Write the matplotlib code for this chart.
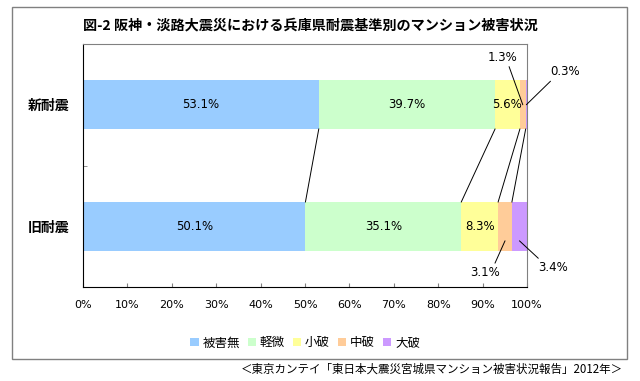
import numpy as np
import matplotlib
matplotlib.use("Agg")
import matplotlib.pyplot as plt
from matplotlib.patches import Rectangle

plt.rcParams['font.family'] = ['Noto Sans CJK JP', 'DejaVu Sans']

# データ
categories = ["旧耐震", "新耐震"]
series_names = ["被害無", "軽微", "小破", "中破", "大破"]
colors = ["#99CCFF", "#CCFFCC", "#FFFF99", "#FFCC99", "#CC99FF"]
old_values = [50.1, 35.1, 8.3, 3.1, 3.4]
new_values = [53.1, 39.7, 5.6, 1.3, 0.3]
title = "図-2 阪神・淡路大震災における兵庫県耐震基準別のマンション被害状況"
source = "＜東京カンテイ「東日本大震災宮城県マンション被害状況報告」2012年＞"
xticks = [0, 10, 20, 30, 40, 50, 60, 70, 80, 90, 100]

data = np.array([old_values, new_values])
y = np.arange(len(categories))
h = 0.4

fig = plt.figure(figsize=(6.4, 3.81), dpi=100)
ax = fig.add_axes([83 / 640, 1 - 287 / 381, 444 / 640, 243 / 381])

# 外枠
fig.patches.append(Rectangle((12 / 640, 1 - 359 / 381), 615 / 640, 352 / 381,
                             transform=fig.transFigure, fill=False,
                             edgecolor="#808080", linewidth=1))

left = np.zeros(len(categories))
for i, name in enumerate(series_names):
    ax.barh(y, data[:, i], left=left, height=h, color=colors[i],
            label=name, linewidth=0)
    left += data[:, i]

# 棒の中のラベル(大きい値のみ)
for j in range(len(categories)):
    start = 0
    for i in range(len(series_names)):
        v = data[j, i]
        if v >= 5:
            ax.text(start + v / 2, y[j], f"{v:.1f}%", ha="center", va="center",
                    fontsize=8.5, family="DejaVu Sans")
        start += v

# 区分線
cum_old = np.cumsum(old_values)
cum_new = np.cumsum(new_values)
for k in range(len(series_names) - 1):
    ax.plot([cum_new[k], cum_old[k]], [1 - h / 2, 0 + h / 2], color="black",
            linewidth=0.7)

# 小さい値のラベル(引き出し線付き)
def leader(j, i, text_xy, xy_y, relpos):
    start = sum(data[j, :i])
    v = data[j, i]
    ax.annotate(f"{v:.1f}%", xy=(start + v / 2, xy_y), xytext=text_xy,
                ha="center", va="center", fontsize=8.5, family="DejaVu Sans",
                annotation_clip=False,
                arrowprops=dict(arrowstyle="-", color="black", lw=0.7,
                                relpos=relpos, shrinkA=0, shrinkB=0))

leader(1, 3, (94.4, 1.39), 1.0, (0.7, 0.0))
leader(1, 4, (108.6, 1.27), 1.0, (0.1, 0.0))
leader(0, 3, (90.5, -0.38), -0.12, (0.8, 1.0))
leader(0, 4, (105.9, -0.34), -0.12, (0.1, 1.0))

ax.set_xlim(0, 100)
ax.set_ylim(-0.5, 1.5)
ax.set_xticks(xticks)
ax.set_xticklabels([f"{t}%" for t in xticks], family="DejaVu Sans", fontsize=8)
ax.tick_params(axis="x", direction="in", length=3, color="#808080", pad=9)
ax.set_yticks(y)
ax.set_yticklabels(categories, fontsize=10, fontweight="bold")
ax.tick_params(axis="y", length=0, pad=10)
ax.set_yticks([0.5], minor=True)
ax.tick_params(axis="y", which="minor", direction="in", length=3, color="#808080")

for s in ["top", "right"]:
    ax.spines[s].set_color("#808080")
for s in ["left", "bottom"]:
    ax.spines[s].set_color("black")

fig.text(83 / 640, 1 - 25 / 381, title, fontsize=10.2, fontweight="bold",
         ha="left", va="center")

ax.legend(loc="center", bbox_to_anchor=(0.5, -0.23), ncol=5, frameon=False,
          fontsize=9, handlelength=0.7, handleheight=0.7, handletextpad=0.3,
          columnspacing=0.6)

fig.text(623 / 640, 1 - 369 / 381, source, fontsize=8.3, ha="right", va="center")

fig.savefig("out.png", dpi=100)
